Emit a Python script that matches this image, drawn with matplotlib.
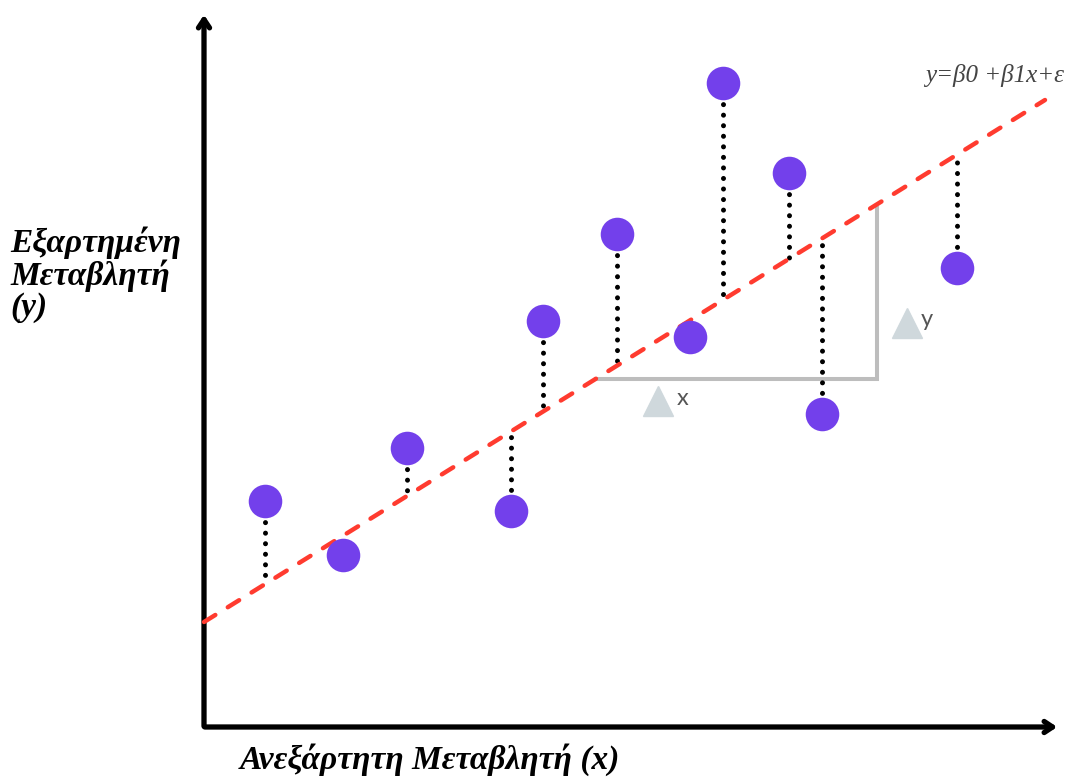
import numpy as np
from matplotlib import pyplot as plt

# data points (drawing units, y grows downwards like the picture)
px = [265, 343, 407, 511, 543, 617, 690, 723, 789, 822, 957]
py = [501, 555, 448, 511, 321, 234, 337, 83, 173, 414, 268]
# which points get a residual line
show_res = [1, 0, 1, 1, 1, 1, 0, 1, 1, 1, 1]
# regression line end points
line_x = [204, 1045]
line_y = [622, 100]
# slope construction (delta x / delta y)
dx_from, dx_to = 596, 877

fig = plt.figure(figsize=(10.83, 7.78), dpi=100)
ax = fig.add_axes([0, 0, 1, 1])
ax.set_xlim(0, 1083)
ax.set_ylim(778, 0)
ax.axis('off')

# axes with arrows
ax.annotate('', xy=(204, 12), xytext=(204, 729),
            arrowprops=dict(arrowstyle='->,head_length=0.6,head_width=0.4', lw=3.8, color='black'))
ax.annotate('', xy=(1060, 727), xytext=(202, 727),
            arrowprops=dict(arrowstyle='->,head_length=0.6,head_width=0.4', lw=3.8, color='black'))

# residuals
for k in range(len(px)):
    if show_res[k]:
        ly = np.interp(px[k], line_x, line_y)
        ax.plot([px[k], px[k]], [py[k], ly], color='black', lw=3.6,
                linestyle=(0, (0.01, 2.1)), dash_capstyle='round', zorder=2)

# regression line
ax.plot(line_x, line_y, color='#FF3B2F', lw=3.2, linestyle=(0, (3.0, 3.3)),
        dash_capstyle='round', zorder=3)

# slope construction
y_a = np.interp(dx_from, line_x, line_y)
y_b = np.interp(dx_to, line_x, line_y)
ax.plot([dx_from, dx_to, dx_to], [y_a, y_a, y_b + 4], color='#BDBDBD', lw=2.9, zorder=1,
        solid_joinstyle='miter')
ax.plot([658], [401], marker='^', ms=22, color='#CFD8DC', zorder=1)
ax.plot([907], [323], marker='^', ms=22, color='#CFD8DC', zorder=1)
ax.text(677, 398, 'x', fontsize=17, color='#555555', family='Lato', va='center')
ax.text(921, 319, 'y', fontsize=17, color='#555555', family='Lato', va='center')

# points
ax.scatter(px, py, s=32**2 * 0.57, color='#7340EB', zorder=4, linewidths=0)

# labels
ax.text(925, 75, r'y=β0 +β1x+ε', fontsize=18, style='italic', color='#444444',
        family='Liberation Serif', va='center')
ax.text(10, 275, 'Εξαρτημένη\nΜεταβλητή\n(y)', fontsize=24, style='italic', weight='bold',
        family='Liberation Serif', va='center', linespacing=1.0)
ax.text(240, 760, 'Ανεξάρτητη Μεταβλητή (x)', fontsize=24, style='italic', weight='bold',
        family='Liberation Serif', va='center')

fig.savefig('out.png', dpi=100)
